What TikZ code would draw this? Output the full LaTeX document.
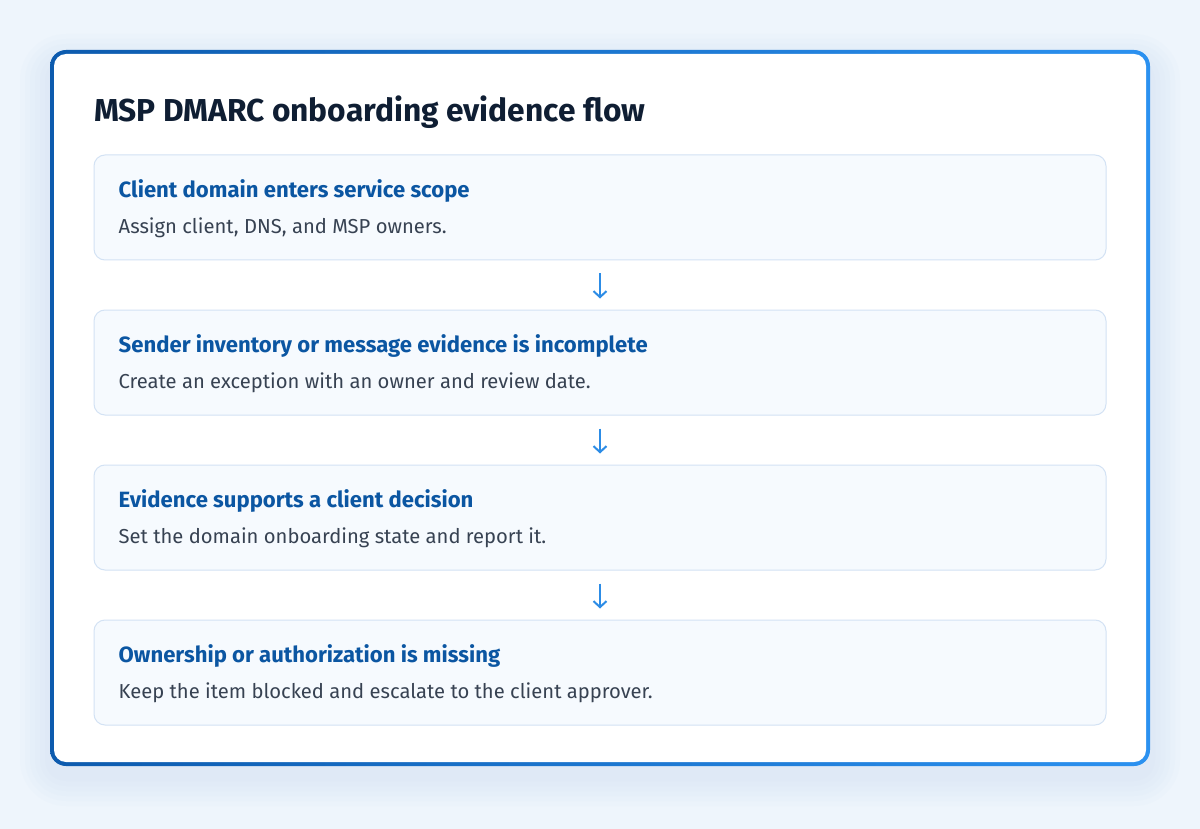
\documentclass[tikz,border=0pt]{standalone}
\usepackage{fontspec}
\setmainfont{Fira Sans}
\usetikzlibrary{positioning,calc,arrows.meta}

\definecolor{pagebg}{HTML}{EEF5FC}
\definecolor{shadowink}{HTML}{BFD5EE}
\definecolor{framedark}{HTML}{0D5BAE}
\definecolor{framelight}{HTML}{2B91F0}
\definecolor{titleink}{HTML}{0F1E33}
\definecolor{headink}{HTML}{0B56A2}
\definecolor{bodyink}{HTML}{374252}
\definecolor{stepfill}{HTML}{F6FAFE}
\definecolor{stepline}{HTML}{D3E2F4}
\definecolor{arrowink}{HTML}{2C8CE6}

\tikzset{
  stepbox/.style={draw=stepline, line width=1pt, fill=stepfill, rounded corners=11pt,
    minimum width=1012pt, minimum height=105pt, inner sep=0pt},
  stephead/.style={anchor=base west, inner sep=0pt, text=headink,
    font=\fontsize{22.1}{26}\selectfont\bfseries},
  stepbody/.style={anchor=base west, inner sep=0pt, text=bodyink,
    font=\fontsize{20.2}{24}\selectfont},
  flow/.style={draw=arrowink, line width=2pt,
    -{Straight Barb[length=6pt,width=13pt,line width=2pt]},
    shorten <=13pt, shorten >=11pt}
}

\begin{document}
\begin{tikzpicture}[x=1pt,y=-1pt]
  % page and card
  \fill[pagebg] (0,0) rectangle (1200,829);
  \useasboundingbox (0,0) rectangle (1200,829);
  \foreach \s in {30,25,20,15,10,5}
    \fill[shadowink, opacity=0.05, rounded corners=16pt+\s] (50-\s,50-\s+14) rectangle (1150+\s,766+\s+10);
  \shade[left color=framedark, right color=framelight, rounded corners=16pt] (50,50) rectangle (1150,766);
  \fill[white, rounded corners=12pt] (54,54) rectangle (1146,762);

  % title
  \node[anchor=base west, inner sep=0pt, text=titleink, font=\fontsize{31.7}{38}\selectfont\bfseries]
    (title) at (94,122) {MSP DMARC onboarding evidence flow};

  % steps
  \node[stepbox] (s1) at (600,207.5) {};
  \node[stepbox, below=49pt of s1] (s2) {};
  \node[stepbox, below=49pt of s2] (s3) {};
  \node[stepbox, below=49pt of s3] (s4) {};

  \node[stephead] (h1) at ($(s1.north west)+(25,43)$) {Client domain enters service scope};
  \node[stepbody] (b1) at ($(s1.north west)+(25,79)$) {Assign client, DNS, and MSP owners.};
  \node[stephead] (h2) at ($(s2.north west)+(25,43)$) {Sender inventory or message evidence is incomplete};
  \node[stepbody] (b2) at ($(s2.north west)+(25,79)$) {Create an exception with an owner and review date.};
  \node[stephead] (h3) at ($(s3.north west)+(25,43)$) {Evidence supports a client decision};
  \node[stepbody] (b3) at ($(s3.north west)+(25,79)$) {Set the domain onboarding state and report it.};
  \node[stephead] (h4) at ($(s4.north west)+(25,43)$) {Ownership or authorization is missing};
  \node[stepbody] (b4) at ($(s4.north west)+(25,79)$) {Keep the item blocked and escalate to the client approver.};

  % arrows
  \draw[flow] (s1.south) -- (s2.north);
  \draw[flow] (s2.south) -- (s3.north);
  \draw[flow] (s3.south) -- (s4.north);
\end{tikzpicture}
\end{document}
